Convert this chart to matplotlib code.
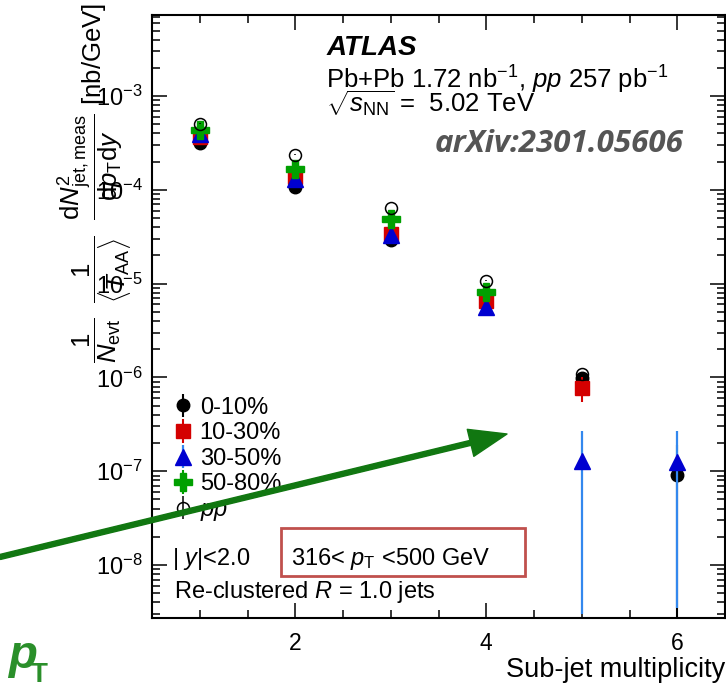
import numpy as np
import matplotlib
matplotlib.use('Agg')
import matplotlib.pyplot as plt
from matplotlib.ticker import LogLocator, MultipleLocator, NullFormatter, FixedLocator
from matplotlib.patches import FancyArrowPatch, Rectangle

plt.rcParams['font.family'] = ['Liberation Sans', 'DejaVu Sans']
plt.rcParams['mathtext.fontset'] = 'custom'
plt.rcParams['mathtext.rm'] = 'Liberation Sans'
plt.rcParams['mathtext.it'] = 'Liberation Sans:italic'
plt.rcParams['mathtext.bf'] = 'Liberation Sans:bold'
plt.rcParams['mathtext.sf'] = 'Liberation Sans'

# ---------------- data ----------------
multiplicity = [1, 2, 3, 4, 5, 6]

cent_0_10 = [3.17e-4, 1.07e-4, 2.9e-5, 6.5e-6, 9.9e-7, 9.1e-8]
cent_0_10_err = [1.0e-5, 4e-6, 1.0e-6, 3e-7, 6e-8, 1.0e-7]

cent_10_30 = [3.65e-4, 1.36e-4, 3.36e-5, 6.6e-6, 7.8e-7, np.nan]
cent_10_30_err = [1.2e-5, 5e-6, 1.2e-6, 3.5e-7, 2.3e-7, np.nan]

cent_30_50 = [3.93e-4, 1.30e-4, 3.27e-5, 5.6e-6, 1.29e-7, 1.24e-7]
cent_30_50_err_lo = [1.2e-5, 5e-6, 1.2e-6, 4e-7, 1.26e-7, 1.205e-7]
cent_30_50_err_hi = [1.2e-5, 5e-6, 1.2e-6, 4e-7, 1.41e-7, 1.46e-7]

cent_50_80 = [4.4e-4, 1.69e-4, 4.93e-5, 8.1e-6, np.nan, np.nan]
cent_50_80_err = [1.3e-5, 5e-6, 1.5e-6, 4e-7, np.nan, np.nan]

pp_vals = [5.1e-4, 2.38e-4, 6.4e-5, 1.08e-5, 1.09e-6, np.nan]
pp_err = [5e-6, 2e-6, 6e-7, 1.5e-7, 3e-8, np.nan]

series_labels = ['0-10%', '10-30%', '30-50%', '50-80%', r'$pp$']
x_ticks = [2, 4, 6]

# ---------------- figure ----------------
fig = plt.figure(figsize=(7.26, 6.84), dpi=100)
ax = fig.add_axes([152/726, 1-618/684, (725-152)/726, (618-15)/684])
ax.set_yscale('log')
ax.set_xlim(0.5, 6.5)
ax.set_ylim(10**-8.565, 10**-2.135)

h0 = ax.errorbar(multiplicity, cent_0_10, yerr=cent_0_10_err, fmt='o', color='black',
                 ms=9, elinewidth=1.5, capsize=0, zorder=2)
h1 = ax.errorbar(multiplicity, cent_10_30, yerr=cent_10_30_err, fmt='s', color='#d40000',
                 ms=10, elinewidth=1.5, capsize=0, zorder=3)
h2 = ax.errorbar(multiplicity, cent_30_50, yerr=[cent_30_50_err_lo, cent_30_50_err_hi], fmt='^',
                 color='#0000d0', ecolor='#3388ee', ms=11.5, elinewidth=1.6, capsize=0, zorder=4)
h3 = ax.errorbar(multiplicity, cent_50_80, yerr=cent_50_80_err, fmt='P', color='#00a000',
                 ms=12.5, elinewidth=1.5, capsize=0, zorder=5)
h4 = ax.errorbar(multiplicity, pp_vals, yerr=pp_err, fmt='o', mfc='none', mec='black',
                 color='black', mew=1.1, ms=8.6, elinewidth=1.1, capsize=0, zorder=6)

# axes styling
for sp in ax.spines.values():
    sp.set_linewidth(1.5)
ax.xaxis.set_major_locator(FixedLocator(x_ticks))
ax.xaxis.set_minor_locator(MultipleLocator(0.5))
ax.yaxis.set_major_locator(LogLocator(base=10, numticks=20))
ax.yaxis.set_minor_locator(LogLocator(base=10, subs=np.arange(2, 10), numticks=20))
ax.yaxis.set_minor_formatter(NullFormatter())
ax.tick_params(which='both', direction='in', top=True, right=True)
ax.tick_params(which='major', length=10.8, width=1.1)
ax.tick_params(which='minor', length=5.5, width=1.1)
ax.tick_params(axis='y', which='major', labelsize=17, pad=6.5)
ax.tick_params(axis='x', which='major', labelsize=16.5, pad=10)

fig.text(725/726, 7/684, 'Sub-jet multiplicity', ha='right', va='baseline', fontsize=19.5)

fig.text(95/726, 1-3/684,
         r'$\dfrac{1}{N_{\rm evt}}\ \ \dfrac{1}{\langle T_{\rm AA}\rangle}\ \ '
         r'\dfrac{{\rm d}N^{2}_{\rm jet,meas}}{{\rm d}p_{\rm T}{\rm d}y}$ [nb/GeV]',
         rotation=90, ha='center', va='top', fontsize=18.5)

# legend
leg = ax.legend([h0, h1, h2, h3, h4], series_labels, loc='upper left',
                bbox_to_anchor=(0.038, 0.367), frameon=False, fontsize=17,
                handlelength=0.8, handletextpad=0.3, labelspacing=0.15,
                borderpad=0, borderaxespad=0)

# annotations
ax.text(2.327, 10**-2.562, 'ATLAS', fontsize=20, fontweight='bold', style='italic', va='baseline')
ax.text(2.327, 10**-2.915, r'Pb+Pb 1.72 nb$^{\mathsf{-1}}$, $pp$ 257 pb$^{\mathsf{-1}}$', fontsize=18.5, va='baseline')
ax.text(2.327, 10**-3.17, r'$\sqrt{s_{\rm NN}}$ =  5.02 TeV', fontsize=18.5, va='baseline')
ax.text(3.46, 10**-3.595, 'arXiv:2301.05606', fontsize=22.5, fontweight='bold', style='italic',
        family='Open Sans', color='#555555', va='baseline')

ax.text(0.712, 10**-8.0, r'| $y$|<2.0', fontsize=17, va='baseline')
ax.text(0.731, 10**-8.351, r'Re-clustered $R$ = 1.0 jets', fontsize=17, va='baseline')
ax.add_patch(Rectangle((1.846, 10**-8.112), 4.404-1.846, 10**-7.607 - 10**-8.112,
                       fill=False, edgecolor='#c0504d', lw=2, zorder=7))
ax.text(1.96, 10**-8.0, r'316< $p_{\rm T}$ <500 GeV', fontsize=17, va='baseline')

# green arrow and label
arrow = FancyArrowPatch((0.0, 1-557/684), (507/726, 1-434/684), transform=fig.transFigure,
                        arrowstyle='simple,head_length=27,head_width=20,tail_width=3.6',
                        mutation_scale=1, color='#117711', shrinkA=0, shrinkB=0, zorder=20)
fig.add_artist(arrow)
fig.text(8/726, 1-668/684, 'p', fontsize=34, fontweight='bold', style='italic', color='#2a8f2a', va='baseline')
fig.text(31/726, 1-682/684, 'T', fontsize=20, fontweight='bold', color='#2a8f2a', va='baseline')

fig.savefig('out.png', dpi=100)
